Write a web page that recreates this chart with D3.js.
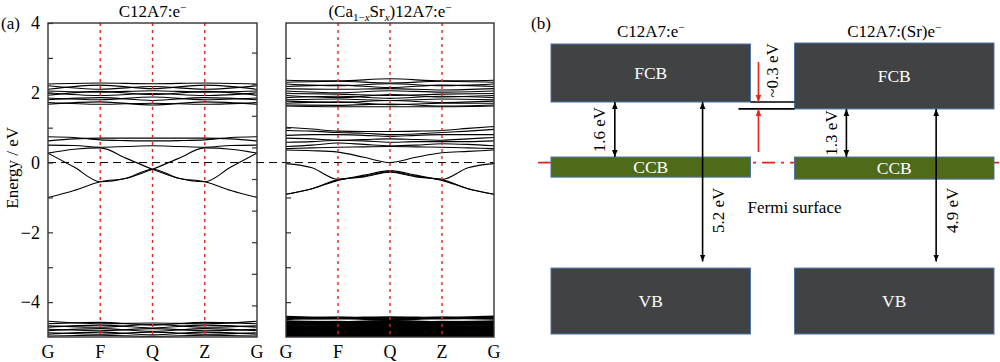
<!DOCTYPE html>
<html lang="en">
<head>
  <meta charset="UTF-8" />
  <title>C12A7 band structure</title>
  <style>
    body { margin: 0; background: #fff; }
    svg { display: block; font-family: "Liberation Serif", "Times New Roman", serif; }
    .band { fill: none; stroke: #000; stroke-width: 1.1; }
    .dense { stroke-width: 2.6; }
    .kline { stroke: #e8241c; stroke-width: 1.4; stroke-dasharray: 3, 4; }
    .fermi { stroke: #000; stroke-width: 1; stroke-dasharray: 8, 5; }
    .frame { fill: none; stroke: #333; stroke-width: 1.4; }
    .axis path { display: none; }
    .axis line { stroke: #333; stroke-width: 1.2; }
    .axis text { font-family: "Liberation Serif", "Times New Roman", serif; font-size: 18px; fill: #000; }
    .lbl { font-family: "Liberation Serif", "Times New Roman", serif; font-size: 17px; fill: #000; }
    .box-lbl { font-family: "Liberation Serif", "Times New Roman", serif; font-size: 17.5px; fill: #fff; }
  </style>
</head>
<body>
  <script src="https://d3js.org/d3.v7.min.js"></script>
  <script>
    // ---- data: panel (a) ----
    const kLabels = ["G", "F", "Q", "Z", "G"];
    const eTicks = [4, 2, 0, -2, -4];

    // C12A7:e-  (values at G F Q Z G, or with mid points)
    const pureUpper = [
      [2.25, 2.28, 2.26, 2.28, 2.25],
      [2.20, 2.10, 2.18, 2.10, 2.20],
      [2.10, 2.22, 2.12, 2.22, 2.10],
      [2.05, 2.02, 2.06, 2.02, 2.05],
      [2.00, 1.92, 1.98, 1.92, 2.00],
      [1.93, 2.04, 1.95, 2.04, 1.93],
      [1.85, 1.80, 1.88, 1.80, 1.85],
      [1.80, 1.86, 1.78, 1.86, 1.80],
      [1.72, 1.67, 1.70, 1.67, 1.72],
      [1.67, 1.74, 1.65, 1.74, 1.67]
    ];
    const pureMid = [
      [0.74, 0.72, 0.65, 0.63, 0.62, 0.63, 0.65, 0.72, 0.74],
      [0.62, 0.68, 0.70, 0.70, 0.70, 0.70, 0.70, 0.68, 0.62],
      [0.50, 0.49, 0.44, 0.46, 0.48, 0.46, 0.44, 0.49, 0.50],
      [0.27, 0.38, 0.42, 0.12, -0.19, -0.45, -0.55, -0.80, -1.00],
      [-1.00, -0.80, -0.55, -0.45, -0.19, 0.12, 0.42, 0.38, 0.27],
      [0.27, -0.13, -0.55, -0.45, -0.19, -0.45, -0.55, -0.13, 0.27]
    ];
    const pureLow = [
      [-4.55, -4.62, -4.60, -4.62, -4.55],
      [-4.62, -4.58, -4.66, -4.58, -4.62],
      [-4.68, -4.72, -4.64, -4.72, -4.68],
      [-4.72, -4.66, -4.74, -4.66, -4.72],
      [-4.78, -4.82, -4.76, -4.82, -4.78],
      [-4.82, -4.76, -4.84, -4.76, -4.82],
      [-4.88, -4.92, -4.86, -4.92, -4.88],
      [-4.92, -4.86, -4.94, -4.86, -4.92],
      [-4.97, -4.95, -4.98, -4.95, -4.97]
    ];

    // (Ca1-xSrx)12A7:e-
    const srUpper = [
      [2.36, 2.34, 2.40, 2.34, 2.36],
      [2.30, 2.33, 2.28, 2.33, 2.30],
      [2.25, 2.20, 2.26, 2.20, 2.25],
      [2.18, 2.22, 2.15, 2.22, 2.18],
      [2.12, 2.10, 2.12, 2.08, 2.12],
      [2.05, 2.00, 2.06, 2.02, 2.05],
      [1.98, 1.96, 1.92, 1.96, 1.98],
      [1.92, 1.86, 1.95, 1.88, 1.92],
      [1.86, 1.90, 1.84, 1.90, 1.86],
      [1.80, 1.82, 1.78, 1.82, 1.80],
      [1.76, 1.72, 1.78, 1.72, 1.76],
      [1.70, 1.74, 1.66, 1.70, 1.70],
      [1.65, 1.64, 1.68, 1.62, 1.65],
      [1.62, 1.60, 1.60, 1.60, 1.62]
    ];
    const srMid = [
      [1.01, 0.96, 0.90, 0.89, 0.89, 0.90, 0.92, 0.98, 1.03],
      [0.92, 0.90, 0.86, 0.84, 0.80, 0.82, 0.86, 0.90, 0.95],
      [0.78, 0.80, 0.80, 0.78, 0.75, 0.78, 0.80, 0.80, 0.80],
      [0.70, 0.68, 0.64, 0.66, 0.68, 0.66, 0.64, 0.68, 0.72],
      [0.58, 0.60, 0.64, 0.62, 0.58, 0.60, 0.60, 0.60, 0.62],
      [0.46, 0.50, 0.56, 0.52, 0.48, 0.50, 0.54, 0.52, 0.48],
      [0.40, 0.42, 0.44, 0.45, 0.46, 0.45, 0.44, 0.42, 0.40],
      [0.36, 0.34, 0.30, 0.15, 0.00, 0.15, 0.28, 0.32, 0.36],
      [-0.03, -0.15, -0.48, -0.36, -0.23, -0.36, -0.48, -0.15, -0.03],
      [-0.91, -0.75, -0.51, -0.39, -0.26, -0.39, -0.51, -0.75, -0.91],
      [-0.91, -0.75, -0.49, -0.41, -0.28, -0.41, -0.49, -0.75, -0.91]
    ];
    const srLow = [
      [-4.43, -4.46, -4.44, -4.46, -4.42],
      [-4.48, -4.45, -4.50, -4.45, -4.47],
      [-4.56, -4.58, -4.55, -4.58, -4.56],
      [-4.59, -4.57, -4.61, -4.57, -4.59],
      [-4.62, -4.64, -4.61, -4.64, -4.62],
      [-4.65, -4.62, -4.67, -4.62, -4.65],
      [-4.69, -4.71, -4.68, -4.71, -4.69],
      [-4.72, -4.69, -4.74, -4.69, -4.72],
      [-4.76, -4.78, -4.75, -4.78, -4.76],
      [-4.79, -4.76, -4.81, -4.76, -4.79],
      [-4.83, -4.85, -4.82, -4.85, -4.83],
      [-4.86, -4.83, -4.88, -4.83, -4.86],
      [-4.90, -4.92, -4.89, -4.92, -4.90],
      [-4.93, -4.90, -4.95, -4.90, -4.93],
      [-4.96, -4.98, -4.96, -4.98, -4.96],
      [-4.99, -4.97, -5.00, -4.97, -4.99]
    ];

    // ---- data: panel (b), schematic levels in eV (Fermi level = 0) ----
    const fcbTop = [3.60, 3.63];
    const fcbBottom = [1.84, 1.63];
    const ccbTop = [0.17, 0.17];
    const ccbBottom = [-0.44, -0.50];
    const vbTop = [-3.20, -3.20];
    const vbBottom = [-5.20, -5.20];
    const gapLabels = ["1.6 eV", "1.3 eV"];
    const wideLabels = ["5.2 eV", "4.9 eV"];
    const shiftLabel = "~0.3 eV";

    const width = 1000, height = 362;
    const svg = d3.select("body").append("svg")
      .attr("width", width)
      .attr("height", height);

    const defs = svg.append("defs");
    function marker(id, color) {
      defs.append("marker")
        .attr("id", id)
        .attr("viewBox", "0 0 8 8")
        .attr("refX", 8).attr("refY", 4)
        .attr("markerUnits", "userSpaceOnUse")
        .attr("markerWidth", 7).attr("markerHeight", 7)
        .attr("orient", "auto-start-reverse")
        .append("path")
        .attr("d", "M0,0.8 L8,4 L0,7.2 Z")
        .attr("fill", color);
    }
    marker("arrK", "#000");
    marker("arrR", "#e8241c");

    // ---- panel (a) ----
    const y = d3.scaleLinear().domain([-5, 4]).range([337, 23]);
    const yRight = d3.scaleLinear().domain([-6, 4]).range([337, 21]);
    const fmt = d => d < 0 ? "\u2212" + Math.abs(d) : String(d);

    const x1 = d3.scaleLinear().domain([0, 4]).range([48, 257]);
    const x2 = d3.scaleLinear().domain([0, 4]).range([286, 494]);

    function drawPlot(id, x, groups) {
      const g = svg.append("g");
      defs.append("clipPath").attr("id", id)
        .append("rect")
        .attr("x", x.range()[0]).attr("y", y.range()[1])
        .attr("width", x.range()[1] - x.range()[0])
        .attr("height", y.range()[0] - y.range()[1]);

      const line = d3.line()
        .x((d, i, arr) => x(i * 4 / (arr.length - 1)))
        .y(d => y(d))
        .curve(d3.curveMonotoneX);

      const bg = g.append("g").attr("clip-path", `url(#${id})`);
      groups.forEach(gr => {
        bg.selectAll(null)
          .data(gr.bands)
          .enter()
          .append("path")
          .attr("class", "band" + (gr.dense ? " dense" : ""))
          .attr("d", d => line(d));
      });

      g.selectAll("line.kline")
        .data([1, 2, 3])
        .enter()
        .append("line")
        .attr("class", "kline")
        .attr("x1", d => x(d)).attr("x2", d => x(d))
        .attr("y1", y.range()[1]).attr("y2", y.range()[0]);

      g.selectAll("text.klbl")
        .data(kLabels)
        .enter()
        .append("text")
        .attr("class", "lbl klbl")
        .attr("x", (d, i) => x(i))
        .attr("y", 358)
        .attr("text-anchor", "middle")
        .style("font-size", "18px")
        .text(d => d);
      return g;
    }

    drawPlot("clip1", x1, [
      { bands: pureUpper }, { bands: pureMid }, { bands: pureLow }
    ]);
    drawPlot("clip2", x2, [
      { bands: srUpper }, { bands: srMid }, { bands: srLow, dense: true }
    ]);

    // Fermi level dashed line across both plots
    svg.append("line")
      .attr("class", "fermi")
      .attr("x1", x1.range()[0]).attr("x2", x2.range()[1])
      .attr("y1", y(0)).attr("y2", y(0));

    // frames
    [x1, x2].forEach(x => {
      svg.append("rect")
        .attr("class", "frame")
        .attr("x", x.range()[0]).attr("y", y.range()[1])
        .attr("width", x.range()[1] - x.range()[0])
        .attr("height", y.range()[0] - y.range()[1]);
    });

    // axes
    svg.append("g")
      .attr("class", "axis")
      .attr("transform", `translate(${x1.range()[0]},0)`)
      .call(d3.axisLeft(y)
        .tickValues(d3.range(-4, 5))
        .tickSize(-5)
        .tickPadding(8)
        .tickFormat(d => eTicks.includes(d) ? fmt(d) : ""));

    svg.append("g")
      .attr("class", "axis")
      .attr("transform", `translate(${x1.range()[1]},0)`)
      .call(d3.axisRight(yRight)
        .tickValues(d3.range(-5, 4))
        .tickSize(-5)
        .tickFormat(""));

    svg.append("g")
      .attr("class", "axis")
      .attr("transform", `translate(${x2.range()[0]},0)`)
      .call(d3.axisLeft(y)
        .tickValues(d3.range(-4, 4))
        .tickSize(-5)
        .tickFormat(""));

    // titles
    const t1 = svg.append("text").attr("class", "lbl")
      .attr("x", (x1.range()[0] + x1.range()[1]) / 2).attr("y", 17)
      .attr("text-anchor", "middle");
    t1.append("tspan").text("C12A7:e");
    t1.append("tspan").attr("dy", -6).attr("font-size", 11).text("\u2212");

    const t2 = svg.append("text").attr("class", "lbl")
      .attr("x", (x2.range()[0] + x2.range()[1]) / 2).attr("y", 17)
      .attr("text-anchor", "middle");
    t2.append("tspan").text("(Ca");
    t2.append("tspan").attr("dy", 4).attr("font-size", 11).text("1\u2212");
    t2.append("tspan").attr("font-size", 11).attr("font-style", "italic").text("x");
    t2.append("tspan").attr("dy", -4).text("Sr");
    t2.append("tspan").attr("dy", 4).attr("font-size", 11).attr("font-style", "italic").text("x");
    t2.append("tspan").attr("dy", -4).text(")12A7:e");
    t2.append("tspan").attr("dy", -6).attr("font-size", 11).text("\u2212");

    svg.append("text").attr("class", "lbl")
      .attr("x", 1).attr("y", 29).text("(a)");

    svg.append("text").attr("class", "lbl")
      .attr("transform", `translate(12,${y(-0.15)}) rotate(-90)`)
      .attr("text-anchor", "middle")
      .attr("dominant-baseline", "central")
      .text("Energy / eV");

    // ---- panel (b) ----
    const yS = d3.scaleLinear().domain([-5.2, 3.6]).range([334, 44]);
    const xb = d3.scaleBand().domain([0, 1]).range([551, 994]).paddingInner(0.181);
    const bw = xb.bandwidth();
    const gb = svg.append("g");

    svg.append("text").attr("class", "lbl")
      .attr("x", 531).attr("y", 29).text("(b)");

    // Fermi level dash-dot
    gb.append("line")
      .attr("x1", 538).attr("x2", width)
      .attr("y1", yS(0)).attr("y2", yS(0))
      .attr("stroke", "#e8241c").attr("stroke-width", 1.6)
      .attr("stroke-dasharray", "13,6,3,6");

    function boxes(tops, bottoms, fill, label) {
      const sel = gb.selectAll(null).data([0, 1]).enter().append("g");
      sel.append("rect")
        .attr("x", i => xb(i))
        .attr("y", i => yS(tops[i]))
        .attr("width", bw)
        .attr("height", i => yS(bottoms[i]) - yS(tops[i]))
        .attr("fill", fill)
        .attr("stroke", "#4a72a8")
        .attr("stroke-width", 1);
      sel.append("text")
        .attr("class", "box-lbl")
        .attr("x", i => xb(i) + bw / 2)
        .attr("y", i => (yS(tops[i]) + yS(bottoms[i])) / 2)
        .attr("text-anchor", "middle")
        .attr("dominant-baseline", "central")
        .text(label);
    }
    boxes(fcbTop, fcbBottom, "#404244", "FCB");
    boxes(ccbTop, ccbBottom, "#4f6b19", "CCB");
    boxes(vbTop, vbBottom, "#404244", "VB");

    // column titles
    const bt1 = gb.append("text").attr("class", "lbl")
      .attr("x", xb(0) + bw / 2).attr("y", 37).attr("text-anchor", "middle");
    bt1.append("tspan").text("C12A7:e");
    bt1.append("tspan").attr("dy", -6).attr("font-size", 11).text("\u2212");
    const bt2 = gb.append("text").attr("class", "lbl")
      .attr("x", xb(1) + bw / 2).attr("y", 37).attr("text-anchor", "middle");
    bt2.append("tspan").text("C12A7:(Sr)e");
    bt2.append("tspan").attr("dy", -6).attr("font-size", 11).text("\u2212");

    // arrows
    const gapPos = [0.32, 0.26];
    const widePos = [0.76, 0.71];
    function vArrow(x, e1, e2, color, both) {
      const id = color === "#000" ? "arrK" : "arrR";
      const l = gb.append("line")
        .attr("x1", x).attr("x2", x)
        .attr("y1", yS(e1)).attr("y2", yS(e2))
        .attr("stroke", color).attr("stroke-width", 1.6)
        .attr("marker-end", `url(#${id})`);
      if (both) l.attr("marker-start", `url(#${id})`);
    }
    function vText(x, e, txt) {
      gb.append("text").attr("class", "lbl")
        .attr("transform", `translate(${x},${yS(e)}) rotate(-90)`)
        .attr("text-anchor", "middle")
        .attr("dominant-baseline", "central")
        .text(txt);
    }
    [0, 1].forEach(i => {
      const xg = xb(i) + bw * gapPos[i];
      vArrow(xg, fcbBottom[i], ccbTop[i], "#000", true);
      vText(xg - 15, (fcbBottom[i] + ccbTop[i]) / 2, gapLabels[i]);
      const xw = xb(i) + bw * widePos[i];
      vArrow(xw, fcbBottom[i], vbTop[i] + 0.2, "#000", true);
      vText(xw + 16, -1.45, wideLabels[i]);
    });

    // ~0.3 eV shift between the two FCB bottoms
    const xMid = xb(0) + bw + 8;
    gb.append("line")
      .attr("x1", xb(0) + bw).attr("x2", xb(1))
      .attr("y1", yS(fcbBottom[0])).attr("y2", yS(fcbBottom[0]))
      .attr("stroke", "#000").attr("stroke-width", 1.6);
    gb.append("line")
      .attr("x1", xb(0) + bw - 12).attr("x2", xb(1))
      .attr("y1", yS(fcbBottom[1])).attr("y2", yS(fcbBottom[1]))
      .attr("stroke", "#000").attr("stroke-width", 1.6);
    vArrow(xMid, 3.05, fcbBottom[0], "#e8241c", false);
    vArrow(xMid, 0.32, fcbBottom[1], "#e8241c", false);
    vText(xMid + 14, 2.8, shiftLabel);

    gb.append("text").attr("class", "lbl")
      .attr("x", xb(1)).attr("y", yS(-1.35))
      .attr("text-anchor", "middle")
      .attr("dominant-baseline", "central")
      .text("Fermi surface");
  </script>
</body>
</html>
